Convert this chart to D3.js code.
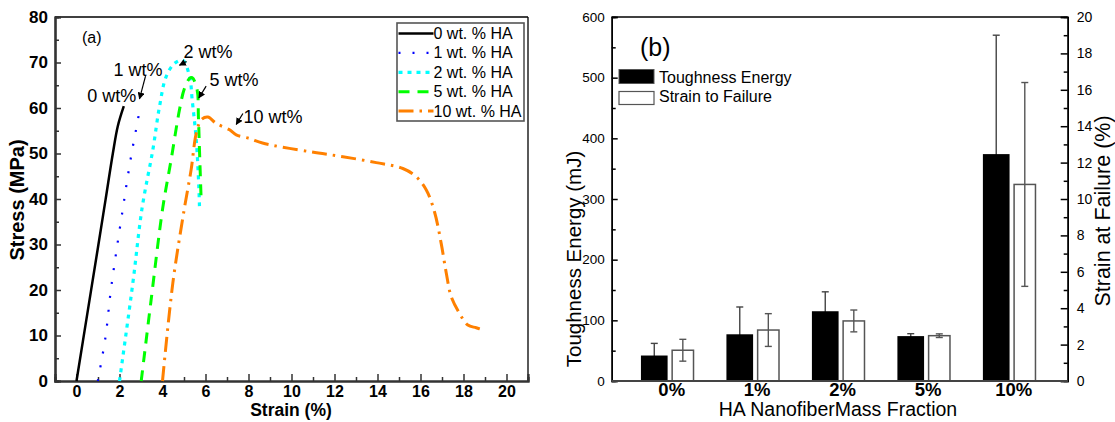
<!DOCTYPE html>
<html>
<head>
<meta charset="utf-8">
<script src="https://cdn.jsdelivr.net/npm/d3@7/dist/d3.min.js"></script>
<style>
  html, body { margin: 0; padding: 0; background: #fff; }
  svg { display: block; font-family: "Liberation Sans", Arial, Helvetica, sans-serif; }
</style>
</head>
<body>
<svg id="chart" width="1115" height="422"></svg>
<script>
// ---------------- Panel (a) data: stress-strain curves ----------------
const seriesNames = ["0 wt. % HA", "1 wt. % HA", "2 wt. % HA", "5 wt. % HA", "10 wt. % HA"];

const strain0 = [0, 0.5, 1.0, 1.35, 1.69, 1.92, 2.2];
const stress0 = [0, 14.7, 29.4, 39.8, 50, 56, 60.4];

const strain1 = [0.99, 1.35, 1.58, 1.85, 2.15, 2.36, 2.57, 2.82, 2.94];
const stress1 = [0, 9.7, 19.3, 28.4, 37.7, 44.2, 50.2, 56.5, 59.6];

const strain2 = [2.0, 2.62, 3.05, 3.55, 3.86, 4.17, 4.56, 4.94, 5.26, 5.38, 5.57, 5.69, 5.72];
const stress2 = [0, 21.5, 38, 50.8, 60.3, 66.9, 69.8, 70.5, 66.9, 61.8, 53, 42.7, 38.3];

const strain5 = [3.01, 3.47, 4.01, 4.40, 4.79, 5.02, 5.26, 5.38, 5.61, 5.67, 5.72, 5.80];
const stress5 = [0, 17.8, 38, 48.6, 59.6, 64.3, 66.5, 66.7, 64, 58.1, 50.8, 39.5];

const strain10 = [4.0, 4.48, 5.02, 5.33, 5.57, 5.8, 6.11, 6.5, 7.12, 7.43, 8.05, 8.65, 10.84, 12.39, 13.94, 15.18, 15.8, 16.27, 16.65, 16.96, 17.2, 17.43, 17.81, 18.2, 18.59, 18.95];
const stress10 = [0, 21.5, 38, 46.4, 54.4, 57.4, 58, 56.6, 55.2, 54.1, 53.3, 52.3, 50.4, 49.3, 48.0, 46.7, 44.9, 42, 37.2, 30.3, 23.7, 18.5, 14.9, 12.3, 11.7, 11.2];

const strainTicks = [0, 2, 4, 6, 8, 10, 12, 14, 16, 18, 20];
const stressTicks = [0, 10, 20, 30, 40, 50, 60, 70, 80];

// annotation labels: text, text position (strain, stress), arrow from/to (strain, stress)
const annoText = ["0 wt%", "1 wt%", "2 wt%", "5 wt%", "10 wt%"];
const annoPos = [[0.5, 61.3], [1.72, 67.0], [4.98, 71.0], [6.19, 64.8], [7.77, 56.7]];
const annoArrow = [null, [[3.21, 67.0], [2.93, 62.0]], [[5.12, 70.2], [4.79, 69.4]], [[6.03, 64.8], [5.69, 62.2]], [[7.74, 58.8], [7.43, 56.4]]];

// ---------------- Panel (b) data: bars ----------------
const categories = ["0%", "1%", "2%", "5%", "10%"];
const toughness = [42, 77, 115, 74, 374];
const toughnessErr = [20, 45, 32, 4, 196];
const strainFail = [1.69, 2.8, 3.3, 2.49, 10.8];
const strainFailErr = [0.6, 0.9, 0.6, 0.1, 5.6];
const energyTicks = [0, 100, 200, 300, 400, 500, 600];
const failTicks = [0, 2, 4, 6, 8, 10, 12, 14, 16, 18, 20];

// ---------------- Drawing ----------------
const svg = d3.select("#chart");
svg.append("rect").attr("width", 1115).attr("height", 422).attr("fill", "#fff");

svg.append("defs").append("marker")
  .attr("id", "arrow").attr("viewBox", "0 0 10 10")
  .attr("refX", 9).attr("refY", 5)
  .attr("markerWidth", 7).attr("markerHeight", 7)
  .attr("markerUnits", "userSpaceOnUse")
  .attr("orient", "auto")
  .append("path").attr("d", "M0,0 L10,5 L0,10 Z").attr("fill", "#000");

// ===== Panel (a) =====
const A = { left: 55, right: 528, top: 17, bottom: 381 };
const xA = d3.scaleLinear().domain([-1, 21]).range([A.left, A.right]);
const yA = d3.scaleLinear().domain([0, 80]).range([A.bottom, A.top]);
const gA = svg.append("g");

// frame top/right
gA.append("line").attr("x1", A.left).attr("x2", A.right).attr("y1", A.top).attr("y2", A.top).attr("stroke", "#000").attr("stroke-width", 1.3);
gA.append("line").attr("x1", A.right).attr("x2", A.right).attr("y1", A.top).attr("y2", A.bottom).attr("stroke", "#000").attr("stroke-width", 1.3);

// axes with inward ticks
const xAxisA = d3.axisBottom(xA).tickValues(strainTicks).tickSize(-7).tickFormat(d3.format("d"));
const xMinorA = d3.axisBottom(xA).tickValues(d3.range(-1, 21.01, 1).filter(v => v % 2 !== 0)).tickSize(-4).tickFormat("");
const yAxisA = d3.axisLeft(yA).tickValues(stressTicks).tickSize(-6).tickFormat(d3.format("d"));
const yMinorA = d3.axisLeft(yA).tickValues(d3.range(5, 80, 10)).tickSize(-4).tickFormat("");

function styleAxis(g, sw, color) {
  g.select(".domain").attr("stroke", color).attr("stroke-width", sw);
  g.selectAll(".tick line").attr("stroke", color).attr("stroke-width", 1.5);
}

const gxm = gA.append("g").attr("transform", `translate(0,${A.bottom})`).call(xMinorA);
styleAxis(gxm, 2, "#333");
const gx = gA.append("g").attr("transform", `translate(0,${A.bottom})`).call(xAxisA);
styleAxis(gx, 2.2, "#333");
gx.selectAll(".tick text").attr("y", 15.5).attr("dy", 0).attr("font-size", 16).attr("font-weight", "bold").attr("fill", "#000").attr("font-family", "Liberation Sans, Arial, sans-serif");

const gym = gA.append("g").attr("transform", `translate(${A.left},0)`).call(yMinorA);
styleAxis(gym, 2, "#333");
const gy = gA.append("g").attr("transform", `translate(${A.left},0)`).call(yAxisA);
styleAxis(gy, 2.2, "#333");
gy.selectAll(".tick text").attr("x", -7).attr("font-size", 17).attr("font-weight", "bold").attr("fill", "#000").attr("font-family", "Liberation Sans, Arial, sans-serif");

// axis titles
gA.append("text").attr("x", 291).attr("y", 416).attr("text-anchor", "middle")
  .attr("font-size", 17.5).attr("font-weight", "bold").text("Strain (%)");
gA.append("text").attr("transform", "translate(24,200) rotate(-90)").attr("text-anchor", "middle")
  .attr("font-size", 20).attr("font-weight", "bold").text("Stress (MPa)");

// curves
const curveData = [
  { xs: strain0, ys: stress0, color: "#000000", width: 2.5, dash: null },
  { xs: strain1, ys: stress1, color: "#0000ff", width: 2.2, dash: "2,12" },
  { xs: strain2, ys: stress2, color: "#00ffff", width: 3.2, dash: "4,5" },
  { xs: strain5, ys: stress5, color: "#00ff00", width: 3, dash: "11,8" },
  { xs: strain10, ys: stress10, color: "#ff8000", width: 3, dash: "15,6,2.5,6" }
];
const lineGen = d3.line().x(d => xA(d[0])).y(d => yA(d[1])).curve(d3.curveCatmullRom.alpha(0.5));
curveData.forEach(c => {
  const pts = c.xs.map((x, i) => [x, c.ys[i]]);
  gA.append("path").attr("d", lineGen(pts)).attr("fill", "none")
    .attr("stroke", c.color).attr("stroke-width", c.width)
    .attr("stroke-dasharray", c.dash);
});

// panel label
gA.append("text").attr("x", 82).attr("y", 43).attr("font-size", 16).text("(a)");

// annotations
annoText.forEach((t, i) => {
  gA.append("text").attr("x", xA(annoPos[i][0])).attr("y", yA(annoPos[i][1]))
    .attr("font-size", 18).text(t);
  const a = annoArrow[i];
  if (a) {
    gA.append("line").attr("x1", xA(a[0][0])).attr("y1", yA(a[0][1]))
      .attr("x2", xA(a[1][0])).attr("y2", yA(a[1][1]))
      .attr("stroke", "#000").attr("stroke-width", 1.2).attr("marker-end", "url(#arrow)");
  }
});

// legend (a)
const legA = gA.append("g").attr("transform", "translate(397,23)");
legA.append("rect").attr("width", 127).attr("height", 98).attr("fill", "#fff").attr("stroke", "#555").attr("stroke-width", 1.6);
curveData.forEach((c, i) => {
  const yy = 10.5 + i * 19.4;
  legA.append("line").attr("x1", 1.5).attr("x2", 36.5).attr("y1", yy).attr("y2", yy)
    .attr("stroke", c.color).attr("stroke-width", c.width).attr("stroke-dasharray", c.dash);
  legA.append("text").attr("x", 36.5).attr("y", yy + 5.5).attr("font-size", 16).text(seriesNames[i]);
});

// ===== Panel (b) =====
const B = { left: 611.7, right: 1067.7, top: 17, bottom: 381 };
const xB = d3.scalePoint().domain(categories).range([B.left, B.right]).padding(0.667);
const step = xB.step();
const yB = d3.scaleLinear().domain([0, 600]).range([B.bottom, B.top]);
const yB2 = d3.scaleLinear().domain([0, 20]).range([B.bottom, B.top]);
const gB = svg.append("g");

gB.append("line").attr("x1", B.left).attr("x2", B.right).attr("y1", B.top).attr("y2", B.top).attr("stroke", "#000").attr("stroke-width", 1.3);

const yAxisB = d3.axisLeft(yB).tickValues(energyTicks).tickSize(-6).tickFormat(d3.format("d"));
const yMinorB = d3.axisLeft(yB).tickValues(d3.range(50, 600, 100)).tickSize(-4).tickFormat("");
const yAxisB2 = d3.axisRight(yB2).tickValues(failTicks).tickSize(-7).tickFormat(d3.format("d"));
const yMinorB2 = d3.axisRight(yB2).tickValues(d3.range(1, 20, 2)).tickSize(-4).tickFormat("");

const gbm = gB.append("g").attr("transform", `translate(${B.left},0)`).call(yMinorB);
styleAxis(gbm, 1.5, "#000");
const gbl = gB.append("g").attr("transform", `translate(${B.left},0)`).call(yAxisB);
styleAxis(gbl, 1.5, "#000");
gbl.selectAll(".tick text").attr("x", -7).attr("font-size", 13.5).attr("fill", "#000").attr("font-family", "Liberation Sans, Arial, sans-serif");

const gbrm = gB.append("g").attr("transform", `translate(${B.right},0)`).call(yMinorB2);
styleAxis(gbrm, 1.5, "#000");
const gbr = gB.append("g").attr("transform", `translate(${B.right},0)`).call(yAxisB2);
styleAxis(gbr, 1.5, "#000");
gbr.selectAll(".tick text").attr("x", 9).attr("font-size", 14).attr("fill", "#000").attr("font-family", "Liberation Sans, Arial, sans-serif");

// bottom axis line
gB.append("line").attr("x1", B.left).attr("x2", B.right).attr("y1", B.bottom).attr("y2", B.bottom).attr("stroke", "#444").attr("stroke-width", 2);

// bars
const blackOff = -0.325 * step, blackW = 0.312 * step;
const whiteOff = 0.04 * step, whiteW = 0.25 * step;
const cap = 3.5;

function errBar(g, cx, lo, hi, color) {
  g.append("line").attr("x1", cx).attr("x2", cx).attr("y1", lo).attr("y2", hi).attr("stroke", color).attr("stroke-width", 1.4);
  g.append("line").attr("x1", cx - cap).attr("x2", cx + cap).attr("y1", hi).attr("y2", hi).attr("stroke", color).attr("stroke-width", 1.4);
  g.append("line").attr("x1", cx - cap).attr("x2", cx + cap).attr("y1", lo).attr("y2", lo).attr("stroke", color).attr("stroke-width", 1.4);
}

categories.forEach((c, i) => {
  const p = xB(c);
  // toughness (black)
  const bx = p + blackOff;
  errBar(gB, bx + blackW / 2, yB(toughness[i] - toughnessErr[i]), yB(toughness[i] + toughnessErr[i]), "#444");
  gB.append("rect").attr("x", bx).attr("y", yB(toughness[i])).attr("width", blackW)
    .attr("height", yB(0) - yB(toughness[i])).attr("fill", "#000");
  // strain to failure (white)
  const wx = p + whiteOff;
  gB.append("rect").attr("x", wx).attr("y", yB2(strainFail[i])).attr("width", whiteW)
    .attr("height", yB2(0) - yB2(strainFail[i])).attr("fill", "#fff").attr("stroke", "#555").attr("stroke-width", 1.5);
  errBar(gB, wx + whiteW / 2, yB2(strainFail[i] - strainFailErr[i]), yB2(strainFail[i] + strainFailErr[i]), "#555");
  // category label
  gB.append("text").attr("x", p + 3).attr("y", 396).attr("text-anchor", "middle")
    .attr("font-size", 18.5).attr("font-weight", "bold").text(c);
});

// redraw bottom axis line on top
gB.append("line").attr("x1", B.left).attr("x2", B.right).attr("y1", B.bottom).attr("y2", B.bottom).attr("stroke", "#444").attr("stroke-width", 2);

// titles
gB.append("text").attr("x", 838).attr("y", 416).attr("text-anchor", "middle").attr("font-size", 19.5).text("HA NanofiberMass Fraction");
gB.append("text").attr("transform", "translate(581,259) rotate(-90)").attr("text-anchor", "middle").attr("font-size", 20.5).text("Toughness Energy (mJ)");
gB.append("text").attr("transform", "translate(1110,211) rotate(-90)").attr("text-anchor", "middle").attr("font-size", 21.5).text("Strain at Failure (%)");

// panel label + legend
gB.append("text").attr("x", 640).attr("y", 56).attr("font-size", 25).text("(b)");
const legB = gB.append("g").attr("transform", "translate(619,69.5)");
legB.append("rect").attr("width", 35).attr("height", 14).attr("fill", "#000").attr("stroke", "#555").attr("stroke-width", 1);
legB.append("text").attr("x", 40).attr("y", 13).attr("font-size", 16).text("Toughness Energy");
legB.append("rect").attr("y", 22).attr("width", 35).attr("height", 13).attr("fill", "#fff").attr("stroke", "#555").attr("stroke-width", 1.2);
legB.append("text").attr("x", 40).attr("y", 32.5).attr("font-size", 16).text("Strain to Failure");
</script>
</body>
</html>
